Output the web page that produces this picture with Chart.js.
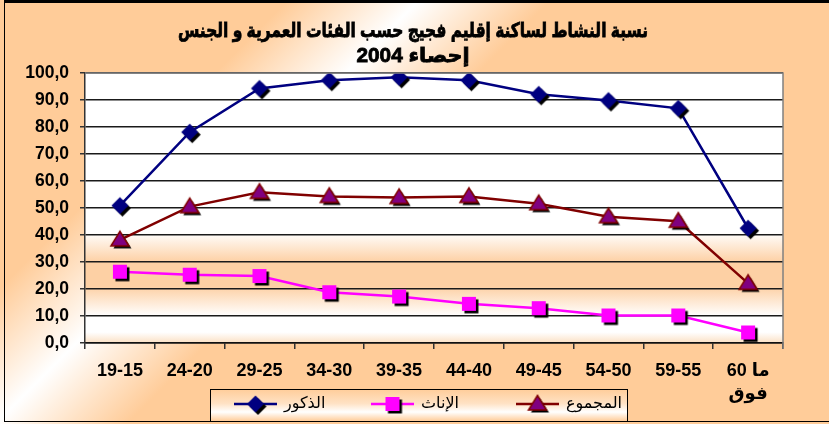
<!DOCTYPE html>
<html>
<head>
<meta charset="utf-8">
<script src="https://cdn.jsdelivr.net/npm/chart.js@4.4.1/dist/chart.umd.min.js"></script>
<style>
  html, body { margin: 0; padding: 0; background: #fff; }
  #wrap { width: 829px; height: 424px; }
</style>
</head>
<body>
<div id="wrap"><canvas id="chart" width="829" height="424"></canvas></div>
<script>
// données
const categories = ['19-15', '24-20', '29-25', '34-30', '39-35', '44-40', '49-45', '54-50', '59-55', ['60 ما', 'فوق']];
const males   = [50.9, 78.1, 94.3, 97.3, 98.4, 97.3, 92.1, 89.8, 86.9, 42.5];
const females = [26.4, 25.3, 24.8, 18.8, 17.2, 14.5, 12.9, 10.2, 10.2, 3.9];
const total   = [38.2, 50.5, 55.8, 54.3, 53.9, 54.3, 51.6, 46.8, 45.1, 22.1];
const seriesNames = ['الذكور', 'الإناث', 'المجموع'];
const titleLines = ['نسبة النشاط لساكنة إقليم فجيج حسب الفئات العمرية و الجنس', 'إحصاء 2004'];

const PEACH = '#FFCC99';
const FONT = '"Liberation Sans", "DejaVu Sans", sans-serif';

// marqueurs avec ombre portée
function makeMarker(kind) {
    const c = document.createElement('canvas');
    c.width = 26; c.height = 26;
    const g = c.getContext('2d');
    const shape = (ox, oy) => {
        const cx = 13 + ox, cy = 13 + oy;
        g.beginPath();
        if (kind === 'diamond') {
            g.moveTo(cx, cy - 8.5); g.lineTo(cx + 8.5, cy); g.lineTo(cx, cy + 8.5); g.lineTo(cx - 8.5, cy);
        } else if (kind === 'square') {
            g.rect(cx - 7, cy - 7, 14, 14);
        } else {
            g.moveTo(cx, cy - 8.5); g.lineTo(cx + 9, cy + 6); g.lineTo(cx - 9, cy + 6);
        }
        g.closePath();
    };
    shape(2.5, 2.5);
    g.fillStyle = '#000';
    g.fill();
    shape(0, 0);
    if (kind === 'diamond') { g.fillStyle = '#000080'; g.fill(); }
    else if (kind === 'square') { g.fillStyle = '#FF00FF'; g.fill(); }
    else { g.fillStyle = '#800080'; g.fill(); g.strokeStyle = '#800000'; g.lineWidth = 1.5; g.stroke(); }
    return c;
}
const markers = [makeMarker('diamond'), makeMarker('square'), makeMarker('triangle')];

// texte gras ajusté à une largeur donnée
function boldText(ctx, txt, cx, cy, size, target) {
    ctx.save();
    ctx.font = 'bold ' + size + 'px ' + FONT;
    ctx.direction = 'rtl';
    ctx.textAlign = 'center';
    ctx.textBaseline = 'middle';
    const w = ctx.measureText(txt).width;
    ctx.translate(cx, cy);
    ctx.scale(target / w, 1);
    ctx.fillStyle = '#000';
    ctx.strokeStyle = '#000';
    ctx.lineWidth = 0.8;
    ctx.fillText(txt, 0, 0);
    ctx.strokeText(txt, 0, 0);
    ctx.restore();
}

const bgPlugin = {
    id: 'bg',
    beforeDraw(chart) {
        const { ctx, width, height, chartArea: a } = chart;
        ctx.save();
        // fond général en diagonale
        const lg = ctx.createLinearGradient(0, 0, 626, 626);
        lg.addColorStop(0, PEACH);
        lg.addColorStop(0.23, PEACH);
        lg.addColorStop(0.335, '#FFFFFF');
        lg.addColorStop(0.44, PEACH);
        lg.addColorStop(1, PEACH);
        ctx.fillStyle = lg;
        ctx.fillRect(0, 0, width, height);
        // zone de tracé
        const pg = ctx.createLinearGradient(0, a.top, 0, a.bottom);
        pg.addColorStop(0, '#FFFFFF');
        pg.addColorStop(0.59, '#FFFFFF');
        pg.addColorStop(0.70, '#FDD0A4');
        pg.addColorStop(0.79, '#FDD0A4');
        pg.addColorStop(0.90, '#FFFFFF');
        pg.addColorStop(0.96, '#FFFFFF');
        pg.addColorStop(1, '#FBE0C4');
        ctx.fillStyle = pg;
        ctx.fillRect(a.left, a.top, a.right - a.left, a.bottom - a.top);
        ctx.restore();
    },
    afterDraw(chart) {
        const { ctx, chartArea: a } = chart;
        ctx.save();
        // cadre gris
        ctx.strokeStyle = '#808080';
        ctx.lineWidth = 1.5;
        ctx.beginPath();
        ctx.moveTo(a.left, a.top); ctx.lineTo(a.right, a.top); ctx.lineTo(a.right, a.bottom + 6);
        ctx.stroke();
        // titre
        boldText(ctx, titleLines[0], 413, 31, 20, 470);
        boldText(ctx, titleLines[1], 413, 56, 20, 113);
        // légende
        const lx = 210, ly = 389, lw = 417, lh = 32;
        const lgr = ctx.createLinearGradient(0, ly, 0, ly + lh);
        lgr.addColorStop(0, PEACH);
        lgr.addColorStop(0.45, '#FFE2C4');
        lgr.addColorStop(0.72, '#FFFFFF');
        lgr.addColorStop(1, PEACH);
        ctx.fillStyle = lgr;
        ctx.fillRect(lx, ly, lw, lh);
        ctx.strokeStyle = '#000';
        ctx.lineWidth = 1;
        ctx.strokeRect(lx + 0.5, ly + 0.5, lw, lh);
        const starts = [234, 371, 516];
        ctx.textBaseline = 'middle';
        chart.data.datasets.forEach((ds, i) => {
            const x0 = starts[i], y = 404;
            ctx.strokeStyle = ds.borderColor;
            ctx.lineWidth = 2.5;
            ctx.beginPath(); ctx.moveTo(x0, y); ctx.lineTo(x0 + 43, y); ctx.stroke();
            ctx.drawImage(markers[i], x0 + 21.5 - 13, y - 13);
            ctx.fillStyle = '#000';
            ctx.textAlign = 'left';
            ctx.font = '16px ' + FONT;
            ctx.fillText(ds.label, x0 + 50, y);
        });
        // bordure extérieure
        ctx.strokeStyle = '#000';
        ctx.lineWidth = 1;
        ctx.strokeRect(4.5, 2.5, 829, 419);
        ctx.lineWidth = 3;
        ctx.beginPath(); ctx.moveTo(4, 1.5); ctx.lineTo(829, 1.5); ctx.stroke();
        ctx.restore();
    }
};

const mkSet = (label, data, color, marker) => ({
    label: label,
    data: data,
    borderColor: color,
    backgroundColor: color,
    borderWidth: 2.5,
    tension: 0,
    pointStyle: marker,
    pointRadius: 8,
    pointHoverRadius: 8
});

new Chart(document.getElementById('chart'), {
    type: 'line',
    data: {
        labels: categories,
        datasets: [
            mkSet(seriesNames[0], males, '#000080', markers[0]),
            mkSet(seriesNames[1], females, '#FF00FF', markers[1]),
            mkSet(seriesNames[2], total, '#800000', markers[2])
        ]
    },
    options: {
        responsive: false,
        animation: false,
        layout: { padding: { top: 73, right: 46, left: 0, bottom: 0 } },
        plugins: { legend: { display: false }, title: { display: false }, tooltip: { enabled: false } },
        scales: {
            x: {
                offset: true,
                grid: { offset: true, drawOnChartArea: false, tickLength: 6, color: '#333', lineWidth: 1.5 },
                border: { color: '#111', width: 1.5 },
                ticks: { color: '#000', font: { family: FONT, size: 18, weight: 'bold', lineHeight: 1.3 }, padding: 10, maxRotation: 0, autoSkip: false },
                afterFit: s => { s.height = 81; }
            },
            y: {
                min: 0, max: 100,
                grid: { color: '#1a1a1a', lineWidth: 1.5, tickLength: 5, tickColor: '#333' },
                border: { color: '#333', width: 1.5 },
                ticks: {
                    stepSize: 10,
                    color: '#000',
                    padding: 11,
                    font: { family: FONT, size: 17.5, weight: 'bold' },
                    callback: v => v.toFixed(1).replace('.', ',')
                },
                afterFit: s => { s.width = 85; }
            }
        }
    },
    plugins: [bgPlugin]
});
</script>
</body>
</html>
